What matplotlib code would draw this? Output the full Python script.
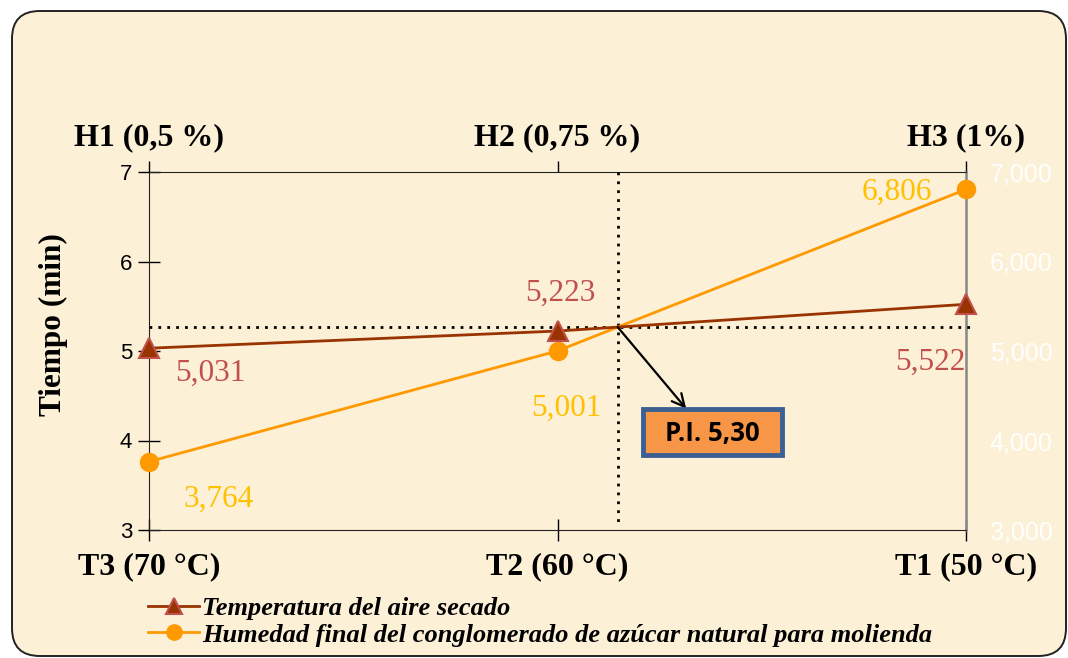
import matplotlib
matplotlib.use("Agg")
import matplotlib.pyplot as plt
from matplotlib.patches import FancyBboxPatch, Rectangle
from matplotlib.ticker import FuncFormatter

# Data
bottom_labels = ["T3 (70 °C)", "T2 (60 °C)", "T1 (50 °C)"]
top_labels = ["H1 (0,5 %)", "H2 (0,75 %)", "H3 (1%)"]
temperatura = [5.031, 5.223, 5.522]
humedad = [3.764, 5.001, 6.806]
pi_label = "P.I. 5,30"
series_names = ["Temperatura del aire secado",
                "Humedad final del conglomerado de azúcar natural para molienda"]

W, H = 1068, 658
fig = plt.figure(figsize=(W / 100, H / 100), dpi=100)
fig.patch.set_facecolor("white")

# rounded cream panel
panel = FancyBboxPatch((12 / W, 2 / H), 1054 / W, 645 / H,
                       boxstyle="round,pad=0,rounding_size=0.026",
                       transform=fig.transFigure, facecolor="#FCF0D6",
                       edgecolor="#222222", linewidth=1.4, zorder=-5,
                       mutation_aspect=W / H)
fig.patches.append(panel)

ax = fig.add_axes([149 / W, 1 - 530 / H, 817 / W, 358 / H])
ax.set_zorder(2)
ax.set_facecolor("none")
x = list(range(len(bottom_labels)))

TEMP_LINE = "#993300"
TEMP_TXT = "#C0504D"
HUM_LINE = "#FF9900"
HUM_TXT = "#FFC000"

ax.set_xlim(0, 2)
ax.set_ylim(3, 7)

l1, = ax.plot(x, temperatura, color=TEMP_LINE, lw=2, marker="^", markersize=15,
              markerfacecolor=TEMP_LINE, markeredgecolor=TEMP_TXT,
              markeredgewidth=1.5, clip_on=False, zorder=5)
l2, = ax.plot(x, humedad, color=HUM_LINE, lw=2, marker="o", markersize=13,
              markerfacecolor=HUM_LINE, markeredgecolor=HUM_LINE,
              clip_on=False, zorder=4)

# intersection of the two lines (segment between T2 and T1)
d0 = humedad[1] - temperatura[1]
d1 = humedad[2] - temperatura[2]
t = d0 / (d0 - d1)
xi = 1 + t
yi = temperatura[1] + t * (temperatura[2] - temperatura[1])

ax.plot([0, 2.015], [yi, yi], color="black", lw=2, ls=(0, (1, 2.2)),
        clip_on=False, zorder=3)
ax.plot([xi, xi], [7, 3.06], color="black", lw=2, ls=(0, (1, 2.2)),
        clip_on=False, zorder=3)

# value labels
fmt = lambda v: f"{v:.3f}".replace(".", ",")
serif = "Liberation Serif"
t_off = [(44, -18), (2, 27), (-26, -42)]
h_off = [(50, -27), (6, -41), (-50, -2)]
for xv, yv, off in zip(x, temperatura, t_off):
    ax.annotate(fmt(yv), (xv, yv), xytext=off, textcoords="offset points",
                ha="center", va="center", color=TEMP_TXT, fontsize=22.5,
                family=serif, annotation_clip=False)
for xv, yv, off in zip(x, humedad, h_off):
    ax.annotate(fmt(yv), (xv, yv), xytext=off, textcoords="offset points",
                ha="center", va="center", color=HUM_TXT, fontsize=22.5,
                family=serif, annotation_clip=False)

# P.I. callout
ax.annotate("", xy=(1.315, 4.356), xytext=(xi, yi),
            arrowprops=dict(arrowstyle="->,head_length=0.9,head_width=0.45",
                            color="black", lw=1.6, shrinkA=0, shrinkB=0),
            zorder=6)
box_x0, box_x1, box_y0, box_y1 = 1.209, 1.550, 3.833, 4.356
ax.add_patch(Rectangle((box_x0, box_y0), box_x1 - box_x0, box_y1 - box_y0,
                       facecolor="#F79646", edgecolor="#3C6094", linewidth=3.5,
                       zorder=7))
ax.text((box_x0 + box_x1) / 2, (box_y0 + box_y1) / 2 - 0.02, pi_label,
        ha="center", va="center", fontsize=18.5, fontweight="bold",
        family="Open Sans", color="black", zorder=8)

# axes styling
ax.set_xticks(x)
ax.set_xticklabels(bottom_labels, fontsize=23, fontweight="bold", family=serif)
ax.set_yticks([3, 4, 5, 6, 7])
ax.tick_params(axis="y", direction="inout", length=16, width=1, labelsize=16,
               pad=4)
ax.tick_params(axis="x", direction="inout", length=16, width=1, pad=8)
for lab in ax.get_yticklabels():
    lab.set_family("Liberation Sans")
ax.set_ylabel("Tiempo (min)", fontsize=22.5, fontweight="bold", family=serif)
ax.yaxis.set_label_coords(-0.099, 0.575)
ax.spines["left"].set_color("#222222")
ax.spines["bottom"].set_color("#222222")
ax.spines["top"].set_color("#222222")
ax.spines["right"].set_color("#888888")
ax.spines["right"].set_linewidth(1.8)

top = ax.secondary_xaxis("top")
top.set_xticks(x)
top.set_xticklabels(top_labels, fontsize=23, fontweight="bold", family=serif)
top.tick_params(axis="x", direction="out", length=8, width=1, pad=6)
top.spines["top"].set_visible(False)

ax2 = ax.twinx()
ax2.set_zorder(1)
ax2.set_ylim(3, 7)
ax2.set_yticks([3, 4, 5, 6, 7])
ax2.yaxis.set_major_formatter(FuncFormatter(lambda v, p: f"{int(v)},000"))
ax2.tick_params(axis="y", length=0, labelsize=18, labelcolor="white", pad=17)
for lab in ax2.get_yticklabels():
    lab.set_family("Liberation Sans")
for s in ax2.spines.values():
    s.set_visible(False)

leg = fig.legend([l1, l2], series_names, loc="upper left",
                 bbox_to_anchor=(148 / W, 1 - 597 / H), frameon=False,
                 prop=dict(family=serif, style="italic", weight="bold", size=19),
                 handlelength=1.95, handletextpad=0.1, labelspacing=0.1,
                 borderpad=0, borderaxespad=0)
for h in leg.legend_handles:
    h.set_markersize(11)

fig.savefig("out.png", dpi=100)
